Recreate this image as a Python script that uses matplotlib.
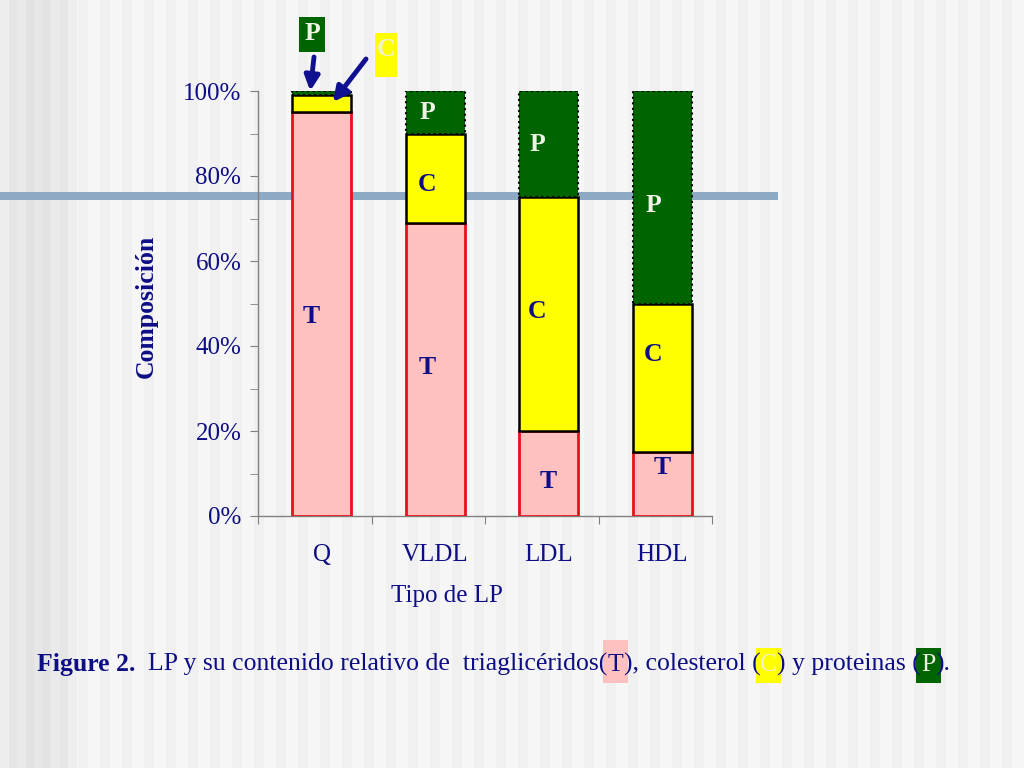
import matplotlib
matplotlib.use('Agg')
import matplotlib.pyplot as plt
import numpy as np
from matplotlib.patches import Rectangle

# ---------------- data ----------------
categories = ['Q', 'VLDL', 'LDL', 'HDL']
trig = [95, 69, 20, 15]      # T (%)
chol = [4, 21, 55, 35]       # C (%)
prot = [1, 10, 25, 50]       # P (%)
yticks = [0, 20, 40, 60, 80, 100]
ytick_labels = ['0%', '20%', '40%', '60%', '80%', '100%']

NAVY = '#0D0D85'
PINK = '#FFC0C0'
YELLOW = '#FFFF00'
GREEN = '#006400'
RED = '#E8101A'
LIGHT = '#EEF3E6'

plt.rcParams['font.family'] = ['Liberation Serif', 'DejaVu Serif']

W, H = 1024, 768
fig = plt.figure(figsize=(W / 100, H / 100), dpi=100)
fig.patch.set_facecolor('#F6F6F6')


def fx(px):
    return px / W


def fy(py):
    return 1 - py / H


# background stripes (decoration)
for x0 in range(78, W, 22):
    fig.add_artist(Rectangle((fx(x0), 0), fx(10), 1, transform=fig.transFigure,
                             color='#F0F0F0', lw=0, zorder=-3))
left_greys = ['#EDEDED', '#E5E5E5', '#E9E9E9', '#E2E2E2', '#E7E7E7',
              '#E3E3E3', '#EAEAEA', '#E6E6E6', '#EEEEEE']
for i, g in enumerate(left_greys):
    fig.add_artist(Rectangle((fx(i * 8.5), 0), fx(8.6), 1, transform=fig.transFigure,
                             color=g, lw=0, zorder=-3))
# horizontal blue-grey stripe
fig.add_artist(Rectangle((0, fy(200)), fx(778), 8 / H, transform=fig.transFigure,
                         color='#8EA9C4', lw=0, zorder=-1))

# ---------------- axes ----------------
ax = fig.add_axes([fx(258), fy(516), fx(712 - 258), (516 - 91) / H])
ax.set_facecolor('none')

x = np.arange(len(categories)) + 0.06
width = 0.52
T = np.array(trig, dtype=float)
C = np.array(chol, dtype=float)
P = np.array(prot, dtype=float)

ax.bar(x, T, width, color=PINK, edgecolor=RED, linewidth=2, zorder=3)
ax.bar(x, C, width, bottom=T, color=YELLOW, edgecolor='black', linewidth=1.8, zorder=3)
ax.bar(x, P, width, bottom=T + C, color=GREEN, edgecolor='black', linewidth=1.5,
       linestyle=':', zorder=3)

ax.set_xlim(-0.5, 3.5)
ax.set_ylim(0, 100)

for s in ['top', 'right']:
    ax.spines[s].set_visible(False)
for s in ['left', 'bottom']:
    ax.spines[s].set_color('#808080')
    ax.spines[s].set_linewidth(1)

ax.set_yticks(yticks)
ax.set_yticklabels(ytick_labels)
ax.set_yticks([10, 30, 50, 70, 90], minor=True)
ax.tick_params(axis='y', which='both', direction='out', length=6, color='#808080',
               labelsize=18, labelcolor=NAVY, pad=6)

ax.set_xticks([-0.5, 0.5, 1.5, 2.5, 3.5])
ax.set_xticklabels([])
ax.set_xticks(x, minor=True)
ax.set_xticklabels(categories, minor=True)
ax.tick_params(axis='x', which='major', direction='out', length=6, color='#808080')
ax.tick_params(axis='x', which='minor', length=0, labelsize=18, labelcolor=NAVY, pad=20)

# segment labels: (bar index, letter, y position, x shift, colour)
seg_labels = [
    (0, 'T', 47, -0.09, NAVY),
    (1, 'T', 35, -0.07, NAVY), (1, 'C', 78, -0.07, NAVY), (1, 'P', 95, -0.07, LIGHT),
    (2, 'T', 8, 0.0, NAVY), (2, 'C', 48, -0.1, NAVY), (2, 'P', 87.5, -0.1, LIGHT),
    (3, 'T', 11.5, 0.0, NAVY), (3, 'C', 38, -0.08, NAVY), (3, 'P', 73, -0.08, LIGHT),
]
for i, letter, yy, dx, col in seg_labels:
    ax.text(x[i] + dx, yy, letter, ha='center', va='center', fontsize=18.5,
            fontweight='bold', color=col, zorder=5)

# call-outs above Q bar
fig.add_artist(Rectangle((fx(299), fy(52)), fx(26), 35 / H, transform=fig.transFigure,
                         color=GREEN, lw=0, zorder=2))
fig.text(fx(312), fy(34), 'P', ha='center', va='center', fontsize=18.5, fontweight='bold',
         color=LIGHT, zorder=3)
fig.add_artist(Rectangle((fx(375), fy(77)), fx(22), 44 / H, transform=fig.transFigure,
                         color=YELLOW, lw=0, zorder=2))
fig.text(fx(386), fy(50), 'C', ha='center', va='center', fontsize=18.5, fontweight='bold',
         color='#F2F2C8', zorder=3)
ax.annotate('', xy=(x[0] - 0.1, T[0] + C[0] + P[0]), xycoords='data',
            xytext=(fx(314), fy(57)), textcoords='figure fraction',
            arrowprops=dict(arrowstyle='-|>', color='#101090', lw=3.5,
                            mutation_scale=22, shrinkA=0, shrinkB=0), zorder=6)
ax.annotate('', xy=(x[0] + 0.1, T[0] + C[0] * 0.6), xycoords='data',
            xytext=(fx(366), fy(59)), textcoords='figure fraction',
            arrowprops=dict(arrowstyle='-|>', color='#101090', lw=3.5,
                            mutation_scale=22, shrinkA=0, shrinkB=0), zorder=6)

# axis titles
fig.text(fx(146), fy(306), 'Composición', rotation=90, ha='center', va='center',
         fontsize=18.5, fontweight='bold', color=NAVY)
fig.text(fx(447), fy(596), 'Tipo de LP', ha='center', va='center', fontsize=18, color=NAVY)

# caption
renderer = fig.canvas.get_renderer()
cx = 37.0
base = fy(671)
pieces = [
    ('Figure 2.', 'bold', NAVY, None),
    ('  LP y su contenido relativo de  triaglicéridos(', 'normal', NAVY, None),
    ('T', 'normal', NAVY, PINK),
    ('), colesterol (', 'normal', NAVY, None),
    ('C', 'normal', '#F2F2C8', YELLOW),
    (') y proteinas (', 'normal', NAVY, None),
    ('P', 'normal', LIGHT, GREEN),
    (').', 'normal', NAVY, None),
]
for s, wgt, col, bg in pieces:
    t = fig.text(fx(cx), base, s, ha='left', va='baseline', fontsize=18.5, fontweight=wgt,
                 color=col, zorder=3)
    bb = t.get_window_extent(renderer)
    if bg is not None:
        top = 640 if bg == PINK else 648
        bw = max(bb.width + 4, 25)
        xc = (bb.x0 + bb.x1) / 2
        fig.add_artist(Rectangle((fx(xc - bw / 2), fy(683)), fx(bw), (683 - top) / H,
                                 transform=fig.transFigure, color=bg, lw=0, zorder=2))
    cx = bb.x1

fig.savefig('out.png', dpi=100, facecolor=fig.get_facecolor())
